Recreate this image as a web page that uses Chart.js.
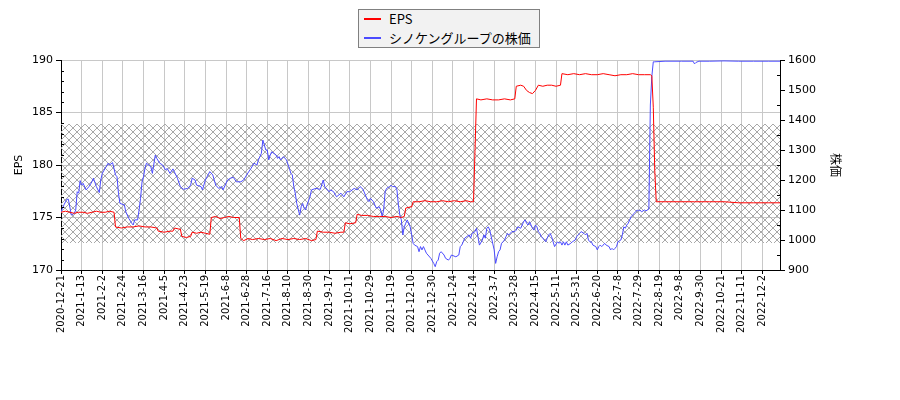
<!DOCTYPE html>
<html>
<head>
<meta charset="utf-8">
<script src="https://cdn.jsdelivr.net/npm/chart.js@4.4.1/dist/chart.umd.min.js"></script>
<style>
  html, body { margin: 0; padding: 0; background: #fff; }
  #wrap { position: relative; width: 900px; height: 400px; }
  #legend { position: absolute; left: 358px; top: 9px; width: 180px; height: 37px;
            background: #f2f2f2; border: 1px solid #808080;
            font-family: "Noto Sans CJK JP", "DejaVu Sans", sans-serif; font-size: 13px; color: #000; }
  .item { position: absolute; left: 0; height: 18px; width: 180px; }
  .sw { position: absolute; left: 5px; top: 8px; width: 17px; height: 2px; }
  .lbl { position: absolute; left: 30px; top: 0; line-height: 18px; white-space: nowrap; }
</style>
</head>
<body>
<div id="wrap">
  <canvas id="c" width="900" height="400"></canvas>
  <div id="legend"></div>
</div>
<script>
// ---- tick labels (every 14 trading days) ----
const tickLabels = ['2020-12-21','2021-1-13','2021-2-2','2021-2-24','2021-3-16','2021-4-5','2021-4-23','2021-5-19','2021-6-8','2021-6-28','2021-7-16','2021-8-10','2021-8-30','2021-9-17','2021-10-11','2021-10-29','2021-11-19','2021-12-10','2021-12-30','2022-1-24','2022-2-14','2022-3-7','2022-3-28','2022-4-15','2022-5-11','2022-5-31','2022-6-20','2022-7-8','2022-7-29','2022-8-19','2022-9-8','2022-9-30','2022-10-21','2022-11-11','2022-12-2'];
const tickStep = 14;
const lastIndex = 488;

// ---- EPS (trading-day index, value) ----
const epsIdx = [0,3,6,9,12,15,18,21,24,27,30,33,36,37,41,45,49,53,57,61,65,66,70,74,76,77,80,81,82,85,88,89,92,95,98,101,102,105,108,111,114,117,121,122,124,127,130,134,138,142,146,150,154,158,162,166,170,173,174,178,182,186,190,192,193,196,200,201,204,208,212,216,220,224,228,231,233,234,237,238,239,243,247,251,255,259,263,267,271,275,278,280,281,282,285,289,293,297,301,305,308,309,312,314,316,318,320,322,324,327,330,333,336,339,340,344,348,352,356,360,364,368,372,376,380,384,388,392,396,400,401,402,403,404,410,420,430,440,450,460,470,480,488];
const epsVal = [175.5,175.6,175.5,175.4,175.5,175.5,175.4,175.5,175.6,175.5,175.5,175.6,175.5,174.1,174.0,174.1,174.1,174.2,174.1,174.1,174.0,173.7,173.6,173.7,173.7,174.0,173.9,173.9,173.2,173.1,173.2,173.6,173.5,173.6,173.5,173.4,175.0,175.1,174.9,175.0,175.1,175.0,175.0,173.0,172.8,173.0,172.9,173.0,172.9,173.0,172.8,173.0,172.9,173.0,172.9,173.0,172.8,172.9,173.7,173.6,173.6,173.5,173.6,173.6,174.5,174.4,174.5,175.3,175.2,175.2,175.1,175.1,175.1,175.0,175.1,175.0,175.1,175.9,176.0,176.0,176.5,176.5,176.6,176.5,176.5,176.6,176.5,176.6,176.5,176.6,176.5,176.5,181.4,186.3,186.2,186.3,186.2,186.2,186.3,186.2,186.3,187.5,187.6,187.5,187.1,186.9,186.8,187.1,187.6,187.5,187.6,187.6,187.5,187.6,188.7,188.6,188.7,188.6,188.7,188.6,188.6,188.7,188.6,188.5,188.6,188.6,188.7,188.6,188.6,188.6,188.5,185.5,179.5,176.5,176.5,176.5,176.5,176.5,176.5,176.4,176.4,176.4,176.4];

// ---- share price (trading-day index, value) ----
const priceIdx = [0,2,4,5,6,7,9,10,11,12,13,14,15,17,19,21,22,24,26,27,28,30,32,33,35,37,38,39,40,43,44,46,48,49,50,52,53,54,55,56,57,58,61,62,64,65,67,69,71,72,74,76,79,81,83,86,88,89,91,92,95,96,98,101,103,105,107,109,110,113,115,117,119,122,124,126,129,131,133,134,136,137,139,140,141,142,143,146,147,148,149,151,153,155,156,157,158,159,160,162,163,164,165,166,167,169,170,173,176,178,179,182,183,185,187,190,192,194,196,199,201,203,205,208,209,210,212,214,216,217,218,219,220,221,223,224,225,227,228,229,230,231,232,233,234,235,237,238,239,240,242,243,244,245,246,247,248,251,253,254,255,256,257,258,260,261,263,264,265,268,270,271,272,273,274,277,278,279,281,282,283,284,286,287,288,289,290,291,292,294,295,296,297,298,299,300,301,302,303,304,306,308,309,310,312,313,314,315,316,317,318,320,321,322,323,324,325,326,327,329,330,331,332,333,334,335,337,338,339,340,341,342,343,344,346,347,349,350,351,352,353,355,356,357,358,359,360,361,363,364,365,366,367,368,369,370,372,373,374,375,376,377,378,380,381,382,383,384,385,386,387,388,389,390,391,392,393,394,396,397,398,399,400,401,402,403,410,421,429,430,431,433,440,450,460,470,480,488];
const priceVal = [1094,1117,1136,1136,1110,1083,1089,1100,1161,1156,1198,1183,1189,1167,1178,1194,1206,1178,1158,1200,1222,1239,1256,1250,1258,1217,1211,1156,1122,1117,1094,1072,1056,1050,1067,1067,1100,1139,1194,1211,1239,1256,1244,1222,1283,1272,1256,1250,1233,1239,1222,1237,1206,1178,1169,1172,1183,1206,1200,1183,1178,1167,1200,1228,1217,1183,1172,1178,1167,1200,1206,1209,1194,1194,1200,1217,1239,1256,1250,1267,1289,1333,1300,1300,1267,1283,1294,1283,1272,1278,1267,1278,1267,1239,1222,1217,1178,1156,1122,1083,1111,1122,1106,1100,1117,1144,1167,1172,1169,1200,1178,1161,1167,1161,1144,1156,1144,1161,1161,1172,1167,1178,1169,1133,1128,1139,1128,1106,1111,1100,1078,1100,1161,1172,1178,1183,1178,1178,1167,1117,1083,1067,1017,1044,1056,1067,1044,1017,989,983,978,961,978,967,978,967,956,939,922,911,928,933,956,961,950,939,933,939,950,944,950,978,983,994,1006,1017,1006,1022,1028,1039,1011,983,1000,1017,1006,1039,1044,1033,1011,967,922,944,961,967,989,994,1000,1011,1022,1017,1028,1028,1033,1044,1039,1050,1061,1067,1056,1050,1061,1039,1033,1050,1044,1028,1022,1011,1006,994,1006,1017,1022,1011,994,978,994,989,994,983,994,983,994,983,989,994,1000,1011,1017,1022,1028,1022,1017,1022,1000,994,994,983,978,967,978,983,978,983,989,983,978,967,972,967,972,978,994,1000,1017,1044,1039,1050,1056,1067,1078,1083,1089,1094,1100,1097,1100,1094,1100,1097,1100,1103,1450,1545,1594,1594,1596,1596,1596,1587,1592,1596,1596,1597,1596,1596,1596,1596];

// ---- hatched band (EPS axis units) ----
const bandRange = [172.6, 183.9];

const seriesNames = ['EPS', 'シノケングループの株価'];
const seriesColors = ['#ff0000', '#4b4bff'];

// legend (HTML)
const legend = document.getElementById('legend');
seriesNames.forEach((n, i) => {
  const it = document.createElement('div');
  it.className = 'item';
  it.style.top = (i === 0 ? 0 : 19) + 'px';
  it.innerHTML = '<span class="sw" style="background:' + seriesColors[i] + '"></span><span class="lbl"></span>';
  it.querySelector('.lbl').textContent = n;
  legend.appendChild(it);
});

Chart.defaults.font.family = '"DejaVu Sans", "Noto Sans CJK JP", sans-serif';
Chart.defaults.color = '#000';

const hatchPlugin = {
  id: 'hatch',
  beforeDatasetsDraw(chart) {
    const {ctx, chartArea} = chart;
    const y = chart.scales.y;
    const top = Math.round(y.getPixelForValue(bandRange[1]));
    const bot = Math.round(y.getPixelForValue(bandRange[0]));
    const p = document.createElement('canvas');
    const n = 8;
    p.width = n; p.height = n;
    const pc = p.getContext('2d');
    pc.fillStyle = '#a8a8a8';
    for (let i = 0; i < n; i++) {
      pc.fillRect(i, i, 1, 1);
      pc.fillRect(n - 1 - i, i, 1, 1);
    }
    const pat = ctx.createPattern(p, 'repeat');
    const left = Math.round(chartArea.left);
    ctx.save();
    ctx.beginPath();
    ctx.rect(chartArea.left, chartArea.top, chartArea.right - chartArea.left, chartArea.bottom - chartArea.top);
    ctx.clip();
    ctx.translate(left, top);
    ctx.fillStyle = pat;
    ctx.fillRect(0, 0, Math.round(chartArea.right) - left, bot - top);
    ctx.restore();
  },
  afterDraw(chart) {
    const {ctx, chartArea} = chart;
    ctx.save();
    ctx.strokeStyle = '#000';
    ctx.lineWidth = 1;
    ctx.beginPath();
    const y = chart.scales.y, y1 = chart.scales.y1;
    for (let v = 171; v < 190; v++) {
      if (v % 5 === 0) continue;
      const py = Math.round(y.getPixelForValue(v)) + 0.5;
      ctx.moveTo(chartArea.left, py); ctx.lineTo(chartArea.left + 3, py);
    }
    for (let v = 950; v < 1600; v += 100) {
      const py = Math.round(y1.getPixelForValue(v)) + 0.5;
      ctx.moveTo(chartArea.right, py); ctx.lineTo(chartArea.right - 3, py);
    }
    ctx.stroke();
    ctx.restore();
  }
};

const toPts = (xs, ys) => xs.map((x, i) => ({x: x, y: ys[i]}));

new Chart(document.getElementById('c'), {
  type: 'line',
  data: {
    datasets: [
      { label: seriesNames[0], data: toPts(epsIdx, epsVal), yAxisID: 'y',
        borderColor: seriesColors[0], borderWidth: 1, pointRadius: 0, tension: 0, fill: false },
      { label: seriesNames[1], data: toPts(priceIdx, priceVal), yAxisID: 'y1',
        borderColor: seriesColors[1], borderWidth: 1, pointRadius: 0, tension: 0, fill: false }
    ]
  },
  options: {
    responsive: false,
    animation: false,
    layout: { padding: { top: 60, left: 0, right: 0, bottom: 0 } },
    plugins: { legend: { display: false }, tooltip: { enabled: false } },
    scales: {
      x: {
        type: 'linear', min: 0, max: lastIndex,
        afterBuildTicks: (s) => { s.ticks = tickLabels.map((_, i) => ({ value: i * tickStep })); },
        afterFit: (s) => { s.height = 130; },
        ticks: {
          callback: (v) => tickLabels[Math.round(v / tickStep)],
          autoSkip: false, maxRotation: 90, minRotation: 90,
          font: { size: 10 }, padding: 1, color: '#000'
        },
        grid: { color: '#c8c8c8', tickColor: '#000', tickLength: 4, lineWidth: 1 },
        border: { color: '#000', width: 1 }
      },
      y: {
        position: 'left', min: 170, max: 190,
        afterFit: (s) => { s.width = 61; },
        ticks: { stepSize: 5, font: { size: 11 }, padding: 3, color: '#000', callback: (v) => String(v) },
        grid: { color: '#c8c8c8', tickColor: '#000', tickLength: 5 },
        border: { color: '#000', width: 1 },
        title: { display: true, text: 'EPS', font: { size: 11 }, padding: { top: 13, bottom: 0 }, color: '#000' }
      },
      y1: {
        position: 'right', min: 900, max: 1600,
        afterFit: (s) => { s.width = 120; },
        ticks: { stepSize: 100, font: { size: 11 }, padding: 3, color: '#000', callback: (v) => String(v) },
        grid: { drawOnChartArea: false, tickColor: '#000', tickLength: 5 },
        border: { color: '#000', width: 1 },
        title: { display: true, text: '株価', font: { size: 12, family: '"Noto Sans CJK JP", sans-serif' },
                 padding: { top: 57, bottom: 0 }, color: '#000' }
      }
    }
  },
  plugins: [hatchPlugin]
});
</script>
</body>
</html>
